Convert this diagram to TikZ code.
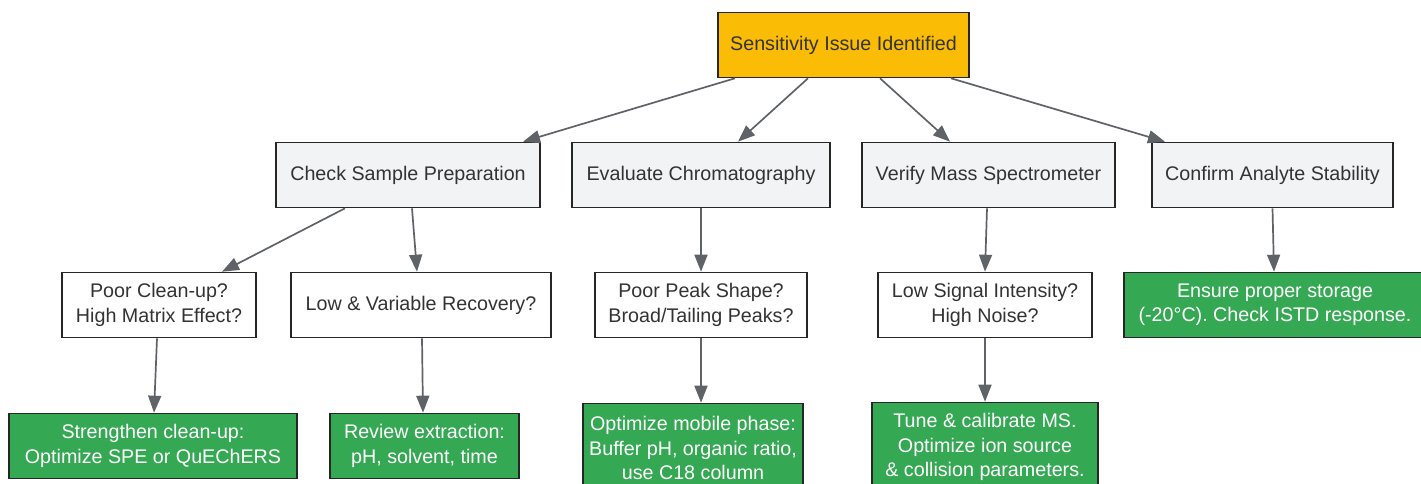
\documentclass[tikz,border=0pt]{standalone}
\usepackage{fontspec}
\setmainfont{Liberation Sans}
\usepackage{tikz}
\usetikzlibrary{arrows.meta, positioning}

\definecolor{rootfill}{HTML}{FBBC05}
\definecolor{checkfill}{HTML}{F1F3F4}
\definecolor{fixfill}{HTML}{34A853}
\definecolor{linkgray}{HTML}{5F6368}
\definecolor{boxtext}{HTML}{333333}

\tikzset{
	box/.style = {rectangle, draw=black!85, line width=1.6pt, inner sep=0pt, minimum height=65pt, align=center, text=boxtext, font=\fontsize{19.7}{24.5}\selectfont},
	rootbox/.style = {box, fill=rootfill},
	checkbox/.style = {box, fill=checkfill},
	askbox/.style = {box, fill=white},
	fixbox/.style = {box, fill=fixfill, text=white}
}

\begin{document}
\begin{tikzpicture}[x=1pt, y=-1pt, -{Triangle[length=17pt, width=13pt]}, draw=linkgray, line width=1.7pt]

\useasboundingbox (0,0) rectangle (1421,484);

\node[rootbox, minimum width=251pt]		(root)		at (843.5,45)		{Sensitivity Issue Identified};

\node[checkbox, minimum width=264pt]	(prep)		at (408,175)		{Check Sample Preparation};
\node[checkbox, minimum width=258pt]	(chrom)		at (701,175)		{Evaluate Chromatography};
\node[checkbox, minimum width=253pt]	(ms)		at (988.5,175)		{Verify Mass Spectrometer};
\node[checkbox, minimum width=241pt]	(stab)		at (1272.5,175)		{Confirm Analyte Stability};

\node[askbox, minimum width=194pt]		(cleanq)	at (159,305)		{Poor Clean-up?\\High Matrix Effect?};
\node[askbox, minimum width=260pt]		(recov)		at (421,305)		{Low \& Variable Recovery?};
\node[askbox, minimum width=212pt]		(peak)		at (701,305)		{Poor Peak Shape?\\Broad/Tailing Peaks?};
\node[askbox, minimum width=214pt]		(signal)	at (985,305)		{Low Signal Intensity?\\High Noise?};
\node[fixbox, minimum width=302pt]		(storage)	at (1275,305)		{Ensure proper storage\\(-20°C). Check ISTD response.};

\node[fixbox, minimum width=288pt]		(cleanfix)	at (153,446)		{Strengthen clean-up:\\Optimize SPE or QuEChERS};
\node[fixbox, minimum width=189pt]		(extract)	at (424.5,446)		{Review extraction:\\pH, solvent, time};
\node[fixbox, minimum width=220pt, minimum height=89pt]	(mobile)	at (693,448)	{Optimize mobile phase:\\Buffer pH, organic ratio,\\use C18 column};
\node[fixbox, minimum width=226pt, minimum height=89pt]	(tune)		at (985,447)	{Tune \& calibrate MS.\\Optimize ion source\\\& collision parameters.};

\path	([xshift=-108.5pt]root.south)	edge	([xshift=115pt]prep.north);
\path	([xshift=-35.5pt]root.south)	edge	([xshift=37pt]chrom.north);
\path	([xshift=36.5pt]root.south)		edge	([xshift=-38.5pt]ms.north);
\path	([xshift=107.5pt]root.south)	edge	([xshift=-107.5pt]stab.north);

\path	([xshift=-63pt]prep.south)		edge	([xshift=63pt]cleanq.north);
\path	([xshift=4pt]prep.south)		edge	([xshift=-4pt]recov.north);
\path	(chrom.south)					edge	(peak.north);
\path	([xshift=-1.5pt]ms.south)		edge	(signal.north);
\path	(stab.south)					edge	([xshift=-1pt]storage.north);

\path	([xshift=-2pt]cleanq.south)		edge	([xshift=1pt]cleanfix.north);
\path	([xshift=1pt]recov.south)		edge	([xshift=-1.5pt]extract.north);
\path	(peak.south)					edge	([xshift=8pt]mobile.north);
\path	(signal.south)					edge	(tune.north);

\end{tikzpicture}
\end{document}
